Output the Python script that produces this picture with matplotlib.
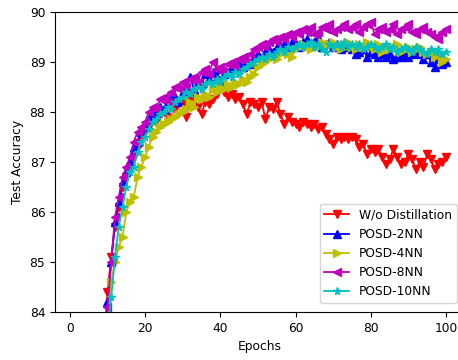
import matplotlib
matplotlib.use("Agg")
import matplotlib.pyplot as plt

epochs = list(range(1, 101))

wo_distill = [62.0, 70.5, 74.8, 77.3, 79.0, 80.4, 81.5, 82.4, 83.3,
    84.4, 85.1, 85.7, 86.1, 86.5, 86.7, 86.9, 87.1, 87.3, 87.5,
    87.6, 87.7, 87.85, 87.8, 87.95, 88.0, 87.9, 88.1, 88.05, 88.2,
    88.15, 87.9, 88.25, 88.3, 88.1, 87.95, 88.2, 88.15, 88.25, 88.35,
    88.5, 88.4, 88.3, 88.35, 88.25, 88.3, 88.15, 87.95, 88.2, 88.15,
    88.1, 88.2, 87.85, 88.1, 88.05, 88.2, 87.95, 87.75, 87.9, 87.8,
    87.75, 87.7, 87.8, 87.75, 87.7, 87.75, 87.65, 87.7, 87.55, 87.45,
    87.35, 87.5, 87.45, 87.5, 87.45, 87.5, 87.45, 87.3, 87.35, 87.15,
    87.25, 87.2, 87.25, 87.1, 86.95, 87.05, 87.25, 87.1, 86.95, 87.0,
    87.15, 87.05, 86.85, 87.0, 86.9, 87.15, 87.05, 86.85, 86.95, 87.0,
    87.1]

posd_2nn = [60.0, 69.0, 74.0, 77.0, 79.0, 80.5, 81.6, 82.5, 83.2,
    84.2, 85.0, 85.8, 86.2, 86.6, 86.8, 87.0, 87.3, 87.4, 87.6,
    87.7, 87.85, 87.9, 88.0, 88.1, 88.05, 88.2, 88.25, 88.3, 88.2,
    88.4, 88.5, 88.7, 88.45, 88.6, 88.55, 88.75, 88.65, 88.8, 88.7,
    88.85, 88.75, 88.8, 88.9, 88.85, 88.95, 88.9, 89.0, 88.95, 89.1,
    89.15, 89.05, 89.2, 89.25, 89.2, 89.3, 89.25, 89.35, 89.3, 89.4,
    89.35, 89.3, 89.4, 89.45, 89.35, 89.4, 89.5, 89.3, 89.35, 89.4,
    89.3, 89.35, 89.25, 89.3, 89.35, 89.25, 89.15, 89.2, 89.25, 89.1,
    89.2, 89.15, 89.1, 89.15, 89.1, 89.15, 89.05, 89.1, 89.1, 89.15,
    89.1, 89.15, 89.2, 89.15, 89.05, 89.15, 89.0, 88.9, 89.05, 88.95,
    89.0]

posd_4nn = [58.0, 68.0, 73.0, 76.0, 78.2, 79.8, 81.0, 82.0, 82.9,
    83.9, 84.6, 85.0, 85.3, 85.5, 86.0, 86.2, 86.3, 86.7, 86.9,
    87.1, 87.3, 87.5, 87.6, 87.7, 87.75, 87.8, 87.85, 87.9, 87.95,
    88.0, 88.05, 88.2, 88.1, 88.3, 88.25, 88.35, 88.3, 88.45, 88.4,
    88.5, 88.45, 88.55, 88.5, 88.6, 88.55, 88.65, 88.6, 88.7, 88.75,
    88.9, 88.95, 89.0, 89.05, 89.1, 89.05, 89.15, 89.2, 89.15, 89.1,
    89.25, 89.3, 89.35, 89.3, 89.25, 89.35, 89.3, 89.4, 89.3, 89.35,
    89.4, 89.3, 89.25, 89.35, 89.4, 89.3, 89.25, 89.35, 89.3, 89.4,
    89.3, 89.25, 89.35, 89.2, 89.3, 89.25, 89.3, 89.35, 89.2, 89.25,
    89.3, 89.2, 89.25, 89.3, 89.2, 89.15, 89.2, 89.1, 89.2, 89.0,
    89.05]

posd_8nn = [61.0, 70.0, 75.0, 77.5, 79.3, 80.7, 81.8, 82.7, 83.4,
    84.1, 85.0, 85.9, 86.3, 86.7, 86.9, 87.1, 87.4, 87.6, 87.7,
    87.8, 88.0, 88.1, 88.05, 88.25, 88.3, 88.2, 88.4, 88.5, 88.45,
    88.6, 88.5, 88.65, 88.7, 88.6, 88.8, 88.85, 88.75, 89.0, 88.85,
    88.9, 88.8, 88.95, 89.0, 88.9, 89.05, 89.1, 89.0, 89.15, 89.25,
    89.3, 89.35, 89.3, 89.4, 89.45, 89.4, 89.5, 89.45, 89.55, 89.5,
    89.6, 89.55, 89.65, 89.6, 89.7, 89.55, 89.6, 89.7, 89.65, 89.75,
    89.6, 89.65, 89.7, 89.75, 89.65, 89.7, 89.75, 89.6, 89.7, 89.75,
    89.8, 89.55, 89.65, 89.7, 89.6, 89.65, 89.75, 89.55, 89.65, 89.7,
    89.75, 89.6, 89.55, 89.65, 89.7, 89.6, 89.55, 89.5, 89.45, 89.6,
    89.65]

posd_10nn = [59.0, 68.5, 73.5, 76.5, 78.5, 80.0, 81.2, 82.2, 83.0,
    83.6, 84.3, 85.1, 85.7, 86.1, 86.5, 86.8, 86.9, 87.2, 87.4,
    87.5, 87.65, 87.8, 87.85, 87.95, 88.0, 88.1, 88.05, 88.2, 88.25,
    88.3, 88.4, 88.35, 88.45, 88.5, 88.45, 88.55, 88.6, 88.55, 88.65,
    88.6, 88.7, 88.75, 88.7, 88.8, 88.75, 88.85, 88.9, 88.95, 89.0,
    89.05, 89.1, 89.05, 89.15, 89.1, 89.2, 89.25, 89.2, 89.3, 89.25,
    89.3, 89.35, 89.3, 89.35, 89.4, 89.3, 89.35, 89.25, 89.2, 89.35,
    89.3, 89.35, 89.3, 89.4, 89.3, 89.35, 89.3, 89.35, 89.25, 89.3,
    89.35, 89.3, 89.25, 89.3, 89.35, 89.25, 89.3, 89.2, 89.25, 89.3,
    89.25, 89.2, 89.3, 89.25, 89.2, 89.15, 89.25, 89.2, 89.25, 89.15,
    89.2]

labels = ["W/o Distillation", "POSD-2NN", "POSD-4NN", "POSD-8NN", "POSD-10NN"]
series = [wo_distill, posd_2nn, posd_4nn, posd_8nn, posd_10nn]
colors = ["r", "b", "y", "m", "c"]
markers = ["v", "^", ">", "<", "*"]

plt.rcParams["font.family"] = ["DejaVu Sans"]
plt.rcParams["font.size"] = 8.8

W, H = 458, 360
fig = plt.figure(figsize=(W / 100, H / 100), dpi=100)
ax = fig.add_axes([55 / W, (H - 312) / H, (464.6 - 55) / W, (312 - 11.7) / H])

for y, lab, c, m in zip(series, labels, colors, markers):
    ax.plot(epochs, y, color=c, marker=m, markersize=5.5, linewidth=1.3, label=lab)

ax.set_ylim(84, 90)
ax.set_xticks([0, 20, 40, 60, 80, 100])
ax.set_xlabel("Epochs")
ax.set_ylabel("Test Accuracy")

fig.legend(loc="lower right", bbox_to_anchor=(456.5 / W, (H - 303) / H),
           bbox_transform=fig.transFigure, borderaxespad=0, fontsize=8.8)

fig.savefig("out.png", dpi=100)
